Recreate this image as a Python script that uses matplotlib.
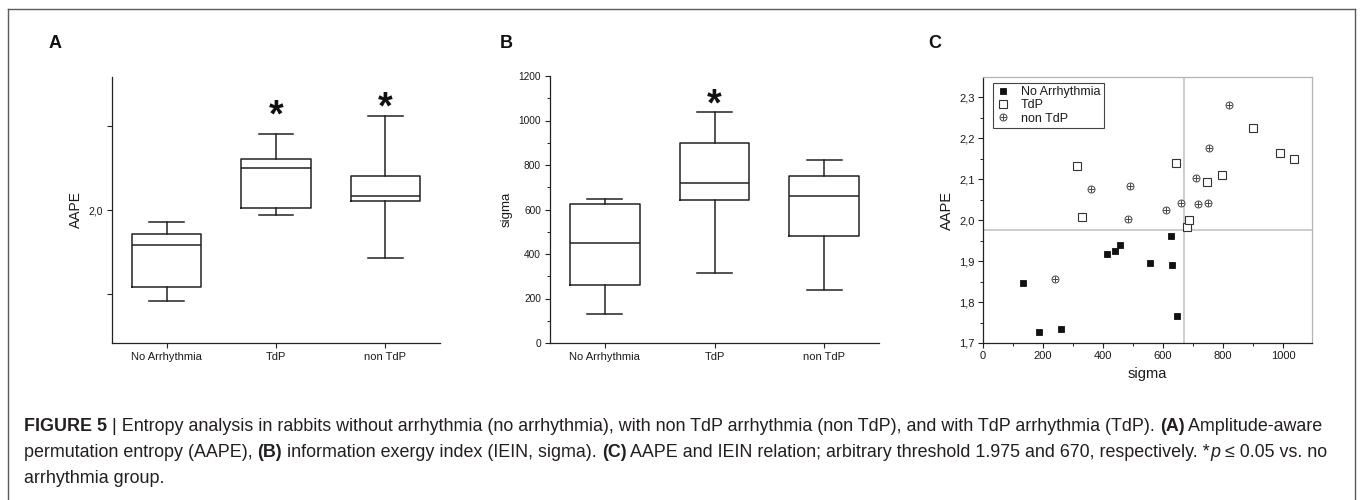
import numpy as np
import matplotlib
matplotlib.use("Agg")
import matplotlib.pyplot as plt
from matplotlib import font_manager
from matplotlib.lines import Line2D
from matplotlib.legend_handler import HandlerTuple
from matplotlib.ticker import MultipleLocator, FuncFormatter

# ---------------- data ----------------
groups = ["No Arrhythmia", "TdP", "non TdP"]

aape_whislo = [1.783, 1.988, 1.886]
aape_q1 = [1.817, 2.005, 2.021]
aape_med = [1.917, 2.099, 2.034]
aape_q3 = [1.943, 2.121, 2.082]
aape_whishi = [1.971, 2.181, 2.224]
aape_star_groups = [2, 3]
aape_star_y = [2.252, 2.269]

sigma_whislo = [130, 313, 238]
sigma_q1 = [260, 642, 483]
sigma_med = [450, 717, 660]
sigma_q3 = [625, 898, 750]
sigma_whishi = [648, 1040, 822]
sigma_star_groups = [2]
sigma_star_y = [1122]

noarr_sigma = [133, 188, 261, 412, 441, 458, 558, 626, 630, 647]
noarr_aape = [1.847, 1.726, 1.733, 1.916, 1.925, 1.939, 1.895, 1.962, 1.890, 1.767]
tdp_sigma = [313, 330, 642, 681, 688, 748, 798, 900, 990, 1038]
tdp_aape = [2.133, 2.007, 2.139, 1.982, 1.999, 2.094, 2.111, 2.225, 2.163, 2.149]
nontdp_sigma = [239, 361, 491, 482, 609, 659, 709, 717, 751, 753, 820]
nontdp_aape = [1.856, 2.076, 2.084, 2.002, 2.024, 2.042, 2.102, 2.039, 2.041, 2.176, 2.281]
aape_threshold = 1.975
sigma_threshold = 670

# ---------------- fonts ----------------
names = {f.name for f in font_manager.fontManager.ttflist}
MAIN = ["Liberation Sans", "DejaVu Sans"]
CAP = (["Liberation Sans Narrow", "Liberation Sans", "DejaVu Sans"]
       if "Liberation Sans Narrow" in names else ["Liberation Sans", "DejaVu Sans"])
plt.rcParams["font.family"] = MAIN

W, H = 1360, 500
fig = plt.figure(figsize=(W / 100, H / 100), dpi=100)
TXT = "#1a1a1a"
LC = "#222222"


def rect(l, t, r, b):
    return [l / W, 1 - b / H, (r - l) / W, (b - t) / H]


def box_panel(ax, lo, q1, med, q3, hi):
    stats = [dict(label=g, whislo=a, q1=b, med=c, q3=d, whishi=e, fliers=[])
             for g, a, b, c, d, e in zip(groups, lo, q1, med, q3, hi)]
    lp = dict(color=LC, lw=1.1)
    ax.bxp(stats, positions=[1, 2, 3], widths=0.636, capwidths=0.318,
           showfliers=False, boxprops=lp, whiskerprops=lp, capprops=lp,
           medianprops=lp, manage_ticks=False)
    ax.set_xlim(0.5, 3.5)
    ax.set_xticks([1, 2, 3])
    ax.set_xticklabels(groups, fontsize=8, color=TXT)
    for s in ("top", "right"):
        ax.spines[s].set_visible(False)
    for s in ("left", "bottom"):
        ax.spines[s].set_linewidth(0.9)
        ax.spines[s].set_color(LC)
    ax.tick_params(axis="both", direction="out", length=3.5, width=0.8,
                   color=LC, pad=3)
    ax.tick_params(axis="y", which="minor", direction="out", length=2.2,
                   width=0.7, color=LC)


def stars(ax, xs, ys):
    fs = 27
    for x, y in zip(xs, ys):
        ax.annotate("*", xy=(x, y), xytext=(0, -0.58 * fs), textcoords="offset points",
                    ha="center", va="baseline", fontsize=fs, fontweight="bold",
                    color="#111111", annotation_clip=False)


comma = FuncFormatter(lambda v, p: f"{v:.1f}".replace(".", ","))

# ---------------- panel A ----------------
axA = fig.add_axes(rect(112, 77, 440, 343))
box_panel(axA, aape_whislo, aape_q1, aape_med, aape_q3, aape_whishi)
axA.set_ylim(1.683, 2.317)
axA.set_yticks([1.8, 2.0, 2.2])
axA.set_yticklabels(["", "2,0", ""], fontsize=7.5, color=TXT)
axA.set_ylabel("AAPE", fontsize=10, color=TXT, labelpad=4)
stars(axA, aape_star_groups, aape_star_y)

# ---------------- panel B ----------------
axB = fig.add_axes(rect(550, 76, 879, 343))
box_panel(axB, sigma_whislo, sigma_q1, sigma_med, sigma_q3, sigma_whishi)
axB.set_ylim(0, 1200)
axB.yaxis.set_major_locator(MultipleLocator(200))
axB.yaxis.set_minor_locator(MultipleLocator(100))
axB.tick_params(axis="y", labelsize=7.3, labelcolor=TXT)
axB.set_ylabel("sigma", fontsize=9.5, color=TXT, labelpad=4)
stars(axB, sigma_star_groups, sigma_star_y)

# ---------------- panel C ----------------
axC = fig.add_axes(rect(983, 77, 1312, 343))
axC.axhline(aape_threshold, color="#c8c8c8", lw=1.3, zorder=1)
axC.axvline(sigma_threshold, color="#c8c8c8", lw=1.3, zorder=1)
h1, = axC.plot(noarr_sigma, noarr_aape, ls="none", marker="s", ms=5.0,
               mfc="#111111", mec="#111111", mew=0.6, zorder=3)
h2, = axC.plot(tdp_sigma, tdp_aape, ls="none", marker="s", ms=5.2,
               mfc="white", mec="#333333", mew=0.8, zorder=3)
h3a, = axC.plot(nontdp_sigma, nontdp_aape, ls="none", marker="o", ms=5.0,
                mfc="white", mec="#444444", mew=0.7, zorder=3)
h3b, = axC.plot(nontdp_sigma, nontdp_aape, ls="none", marker="+", ms=5.0,
                mec="#444444", mew=0.7, zorder=4)
axC.set_xlim(0, 1097)
axC.set_ylim(1.7, 2.349)
axC.xaxis.set_major_locator(MultipleLocator(200))
axC.xaxis.set_minor_locator(MultipleLocator(100))
axC.yaxis.set_major_locator(MultipleLocator(0.1))
axC.yaxis.set_minor_locator(MultipleLocator(0.05))
axC.yaxis.set_major_formatter(comma)
axC.tick_params(axis="both", which="major", direction="out", length=3.5, width=0.8,
                color=LC, labelsize=8, labelcolor=TXT, pad=2.5)
axC.tick_params(axis="both", which="minor", direction="out", length=2.2, width=0.7,
                color=LC)
for s in ("top", "right"):
    axC.spines[s].set_color("#b4b4b4")
    axC.spines[s].set_linewidth(0.9)
for s in ("left", "bottom"):
    axC.spines[s].set_color(LC)
    axC.spines[s].set_linewidth(0.9)
axC.set_xlabel("sigma", fontsize=10.5, color=TXT, labelpad=4)
axC.set_ylabel("AAPE", fontsize=10.5, color=TXT, labelpad=4)
leg = axC.legend([h1, h2, (h3a, h3b)], groups, loc="upper left",
                 bbox_to_anchor=(0.030, 0.977), borderaxespad=0, fontsize=9,
                 frameon=True, fancybox=False, framealpha=1, edgecolor="#444444",
                 handlelength=1.2, handletextpad=0.8, labelspacing=0.1,
                 borderpad=0.25, handler_map={tuple: HandlerTuple(ndivide=1)})
leg.get_frame().set_linewidth(0.8)
for t in leg.get_texts():
    t.set_color(TXT)

# ---------------- panel letters ----------------
for lbl, x in (("A", 49), ("B", 500), ("C", 928)):
    fig.text(x / W, 1 - 44 / H, lbl, fontsize=13, fontweight="bold",
             ha="left", va="center", color="#111111")

# ---------------- frame ----------------
fc = "#5a5a5a"
fig.add_artist(Line2D([7.5 / W, 7.5 / W], [0, 1 - 9 / H], transform=fig.transFigure, color=fc, lw=1.0))
fig.add_artist(Line2D([7.5 / W, 1355 / W], [1 - 9 / H, 1 - 9 / H], transform=fig.transFigure, color=fc, lw=1.0))
fig.add_artist(Line2D([1355 / W, 1355 / W], [0, 1 - 9 / H], transform=fig.transFigure, color=fc, lw=1.0))

# ---------------- caption ----------------
renderer = fig.canvas.get_renderer()
CAPC = "#231f20"


def props(size, weight, style):
    return dict(fontsize=size, fontweight=weight, fontstyle=style, family=CAP)


def seg_w(text, size, weight, style):
    t1 = fig.text(0, 0, "X" + text + "X", **props(size, weight, style))
    t2 = fig.text(0, 0, "XX", **props(size, weight, style))
    w = t1.get_window_extent(renderer).width - t2.get_window_extent(renderer).width
    t1.remove(); t2.remove()
    return w


n, b, i = ("normal", "normal"), ("bold", "normal"), ("normal", "italic")
line1 = [("FIGURE 5", *b), (" | Entropy analysis in rabbits without arrhythmia (no arrhythmia), with non TdP arrhythmia (non TdP), and with TdP arrhythmia (TdP). ", *n),
         ("(A)", *b), (" Amplitude-aware", *n)]
line2 = [("permutation entropy (AAPE), ", *n), ("(B)", *b), (" information exergy index (IEIN, sigma). ", *n),
         ("(C)", *b), (" AAPE and IEIN relation; arbitrary threshold 1.975 and 670, respectively. *", *n),
         ("p", *i), (" \u2264 0.05 vs. no", *n)]
line3 = [("arrhythmia group.", *n)]

base = 10.0
w1 = sum(seg_w(s, base, wt, st) for s, wt, st in line1)
cap_size = base * 1301 / w1


def draw_line(segs, x0, ybase):
    x = x0
    for s, wt, st in segs:
        fig.text(x / W, 1 - ybase / H, s, ha="left", va="baseline", color=CAPC,
                 **props(cap_size, wt, st))
        x += seg_w(s, cap_size, wt, st)


draw_line(line1, 24, 431)
draw_line(line2, 24, 457)
draw_line(line3, 24, 483)

fig.savefig("out.png", dpi=100)
